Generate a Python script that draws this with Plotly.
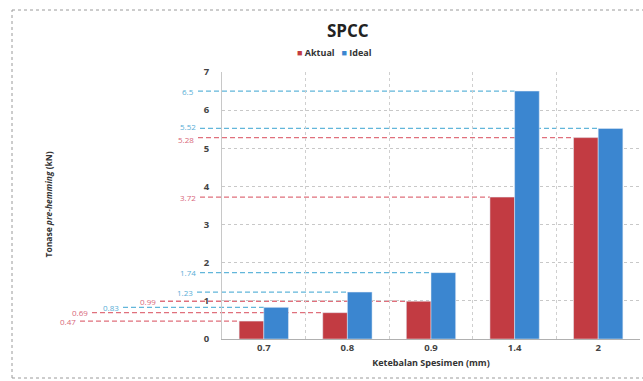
import plotly.graph_objects as go

categories = ["0.7", "0.8", "0.9", "1.4", "2"]
aktual = [0.47, 0.69, 0.99, 3.72, 5.28]
ideal = [0.83, 1.23, 1.74, 6.5, 5.52]
y_ticks = [0, 1, 2, 3, 4, 5, 6, 7]

# style: where each value label / dashed guide starts (pixels from left of window)
aktual_label_px = [80, 92, 160, 200, 198]
ideal_label_px = [123, 197, 200, 198, 200]
# style: small vertical nudges of value labels (pixels)
aktual_label_dy = [0, 0, 0, 0, -2]
ideal_label_dy = [0, 0, 0, 0, 2]

W, H = 643, 381
PLOT_L, PLOT_R, PLOT_T, PLOT_B = 222, 640, 72, 339  # window pixels
PL, PR, PT, PB = PLOT_L, W - PLOT_R, PLOT_T, H - PLOT_B
plot_w = PLOT_R - PLOT_L
plot_h = PLOT_B - PLOT_T
BARGAP = 0.41
RED = "#C23B42"
BLUE = "#3B86D0"
RED_LINE = "#E0707C"
BLUE_LINE = "#62B6DA"
FONT = "Open Sans"

xpos = list(range(len(categories)))
xmin, xmax = -0.5, len(categories) - 0.5


def px_to_paper(px):
    return (px - PLOT_L) / plot_w


def py_to_paper(py):
    return (PLOT_B - py) / plot_h


def data_to_paper(x):
    return (x - xmin) / (xmax - xmin)


fig = go.Figure()
fig.add_bar(x=xpos, y=aktual, name="Aktual", marker_color=RED, showlegend=False)
fig.add_bar(x=xpos, y=ideal, name="Ideal", marker_color=BLUE, showlegend=False)

half = (1 - BARGAP) / 2
shapes = []
annotations = []
for vals, starts, dys, offset, lc, tc in [
    (aktual, aktual_label_px, aktual_label_dy, -half, RED_LINE, "#D8677A"),
    (ideal, ideal_label_px, ideal_label_dy, 0.0, BLUE_LINE, "#58AED6"),
]:
    for i, v in enumerate(vals):
        x_end = data_to_paper(xpos[i] + offset)
        x_start = px_to_paper(starts[i])
        shapes.append(dict(type="line", xref="paper", yref="y", x0=x_start, x1=x_end,
                           y0=v, y1=v, layer="below",
                           line=dict(color=lc, width=1.3, dash="5px,3px")))
        annotations.append(dict(xref="paper", yref="y", x=x_start - 2 / plot_w, y=v,
                                yshift=dys[i], text=str(v), showarrow=False, xanchor="right",
                                yanchor="middle", font=dict(family=FONT, size=8, color=tc)))

# outer chart border (right side falls outside the picture)
bx0, bx1 = px_to_paper(12), px_to_paper(700)
by0, by1 = py_to_paper(378), py_to_paper(10)
for (a, b, c, d) in [(bx0, by1, bx1, by1), (bx0, by0, bx1, by0), (bx0, by0, bx0, by1)]:
    shapes.append(dict(type="line", xref="paper", yref="paper", x0=a, y0=b, x1=c, y1=d,
                       line=dict(color="#9a9a9a", width=1, dash="dot"), layer="below"))

# y axis title
annotations.append(dict(xref="paper", yref="paper", x=px_to_paper(40), y=py_to_paper(205),
                        text="<b>Tonase <i>pre-hemming</i> (kN)</b>", textangle=-90,
                        showarrow=False, font=dict(family=FONT, size=8.5, color="#333")))

# legend (compact, as in the original)
legend_text = ("<span style='color:%s'>■</span> Aktual&nbsp;&nbsp;&nbsp;"
               "<span style='color:%s'>■</span> Ideal") % (RED, BLUE)
annotations.append(dict(xref="paper", yref="paper", x=px_to_paper(334), y=py_to_paper(52),
                        text=legend_text, showarrow=False, xanchor="center", yanchor="middle",
                        font=dict(family=FONT, size=9, color="#333", weight="bold")))

# title
annotations.append(dict(xref="paper", yref="paper", x=px_to_paper(348), y=py_to_paper(30),
                        text="<b>SPCC</b>", showarrow=False, xanchor="center", yanchor="middle",
                        font=dict(family=FONT, size=17, color="#222")))

fig.update_layout(
    width=W, height=H,
    margin=dict(l=PL, r=PR, t=PT, b=PB, pad=0, autoexpand=False),
    paper_bgcolor="white", plot_bgcolor="white",
    barmode="group", bargap=BARGAP, bargroupgap=0,
    showlegend=False,
    shapes=shapes, annotations=annotations,
    xaxis=dict(range=[xmin, xmax], tickmode="array", tickvals=xpos, ticktext=categories,
               showgrid=False, zeroline=False, showline=True, linecolor="#b0b0b0",
               ticks="", automargin=False,
               tickfont=dict(family=FONT, size=9.5, color="#444", weight="bold"),
               title=dict(text="<b>Ketebalan Spesimen (mm)</b>", standoff=6,
                          font=dict(family=FONT, size=9, color="#333")),
               minor=dict(tickvals=[x + 0.5 for x in xpos[:-1]], showgrid=True,
                          gridcolor="#cfcfcf", griddash="dot", gridwidth=1)),
    yaxis=dict(range=[0, 7], tickvals=y_ticks, showgrid=True, gridcolor="#c8c8c8",
               griddash="dot", zeroline=False, showline=True, linecolor="#c8c8c8",
               automargin=False,
               tickfont=dict(family=FONT, size=9.5, color="#444", weight="bold"),
               ticklabelstandoff=10),
)

fig.write_html("out.html", config={"displayModeBar": False},
               post_script="document.body.style.margin='0';document.body.style.overflow='hidden';")
